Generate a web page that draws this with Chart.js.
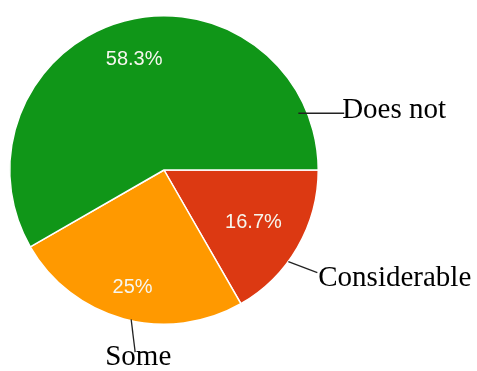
<!DOCTYPE html>
<html>
<head>
<meta charset="utf-8">
<script src="https://cdn.jsdelivr.net/npm/chart.js@4/dist/chart.umd.min.js"></script>
<style>
  html, body { margin: 0; padding: 0; background: #fff; }
  #pie { display: block; }
</style>
</head>
<body>
<canvas id="pie" width="477" height="371"></canvas>
<script>
// clockwise from 3 o'clock
var categories = ['Considerable', 'Some', 'Does not'];
var shares = [16.7, 25, 58.3];
var valueLabels = ['16.7%', '25%', '58.3%'];
var sliceColors = ['#dc3912', '#ff9900', '#109618'];

// where the percent sits along the slice radius
var labelRadius = [0.67, 0.78, 0.75];
// callout lines, in radius units from the pie centre: [start, end, text]
var callouts = [
    [[0.806, 0.594], [0.994, 0.665], [1.0, 0.755]],
    [[-0.213, 0.968], [-0.187, 1.181], [-0.381, 1.262]],
    [[0.871, -0.368], [1.168, -0.368], [1.155, -0.335]]
];

var labelPlugin = {
    id: 'labels',
    afterDatasetsDraw: (chart) => {
        var ctx = chart.ctx;
        var arcs = chart.getDatasetMeta(0).data;
        ctx.save();
        arcs.forEach((arc, i) => {
            var mid = (arc.startAngle + arc.endAngle) / 2;
            var r = arc.outerRadius * labelRadius[i];
            ctx.fillStyle = '#f6f6ee';
            ctx.font = '20px "Liberation Sans", Arial, sans-serif';
            ctx.textAlign = 'center';
            ctx.textBaseline = 'middle';
            ctx.fillText(valueLabels[i], arc.x + Math.cos(mid) * r, arc.y + Math.sin(mid) * r + 1);

            var c = callouts[i], R = arc.outerRadius;
            ctx.strokeStyle = '#222';
            ctx.lineWidth = 1.3;
            ctx.beginPath();
            ctx.moveTo(arc.x + c[0][0] * R, arc.y + c[0][1] * R);
            ctx.lineTo(arc.x + c[1][0] * R, arc.y + c[1][1] * R);
            ctx.stroke();
            ctx.fillStyle = '#000';
            ctx.font = '29px "Liberation Serif", "Times New Roman", serif';
            ctx.textAlign = 'left';
            ctx.textBaseline = 'alphabetic';
            ctx.fillText(categories[i], arc.x + c[2][0] * R, arc.y + c[2][1] * R);
        });
        ctx.restore();
    }
};

new Chart('pie', {
    type: 'pie',
    data: {
        labels: categories,
        datasets: [{
            data: shares,
            backgroundColor: sliceColors,
            borderColor: '#ffffff',
            borderWidth: 1.5
        }]
    },
    options: {
        responsive: false,
        animation: false,
        rotation: 90,
        layout: { padding: { left: 9, top: 15, right: 158, bottom: 46 } },
        plugins: {
            legend: { display: false },
            tooltip: { enabled: false }
        }
    },
    plugins: [labelPlugin]
});
</script>
</body>
</html>
